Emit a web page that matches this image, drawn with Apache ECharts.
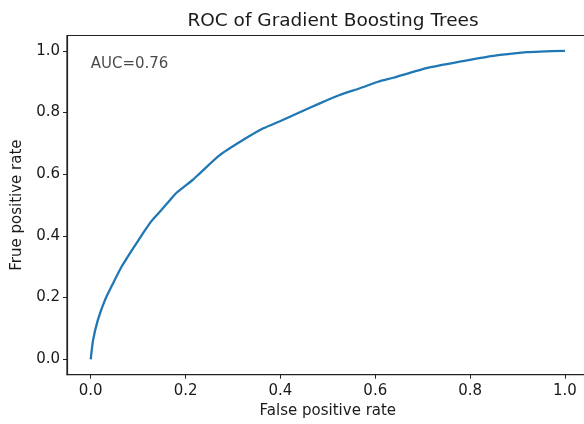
<!DOCTYPE html>
<html lang="en">
<head>
<meta charset="UTF-8">
<title>ROC of Gradient Boosting Trees</title>
<script src="https://cdn.jsdelivr.net/npm/echarts@6/dist/echarts.min.js"></script>
<style>
  html, body { margin: 0; padding: 0; background: #fff; overflow: hidden; }
  #main { width: 584px; height: 424px; }
</style>
</head>
<body>
<div id="main"></div>
<script type="text/javascript">
  // ROC curve points
  var fpr = [0, 0.005, 0.015, 0.030, 0.047, 0.065, 0.089, 0.110, 0.128, 0.149, 0.167, 0.181, 0.216, 0.230,
    0.272, 0.321, 0.364, 0.399, 0.441, 0.483, 0.525, 0.568, 0.606, 0.638, 0.708, 0.778, 0.849, 0.919, 0.947, 1.0];
  var tpr = [0, 0.062, 0.127, 0.192, 0.246, 0.300, 0.359, 0.408, 0.448, 0.484, 0.516, 0.540, 0.583, 0.603,
    0.662, 0.711, 0.749, 0.772, 0.801, 0.830, 0.857, 0.879, 0.900, 0.913, 0.944, 0.965, 0.984, 0.996, 0.998, 1.0];
  var ticks = [0, 0.2, 0.4, 0.6, 0.8, 1.0];
  var aucText = 'AUC=0.76';
  var aucPos = [0, 0.95];

  var font = 'DejaVu Sans';
  var ink = '#1a1a1a';

  var curve = [];
  for (var i = 0; i < fpr.length; i++) {
    curve.push([fpr[i], tpr[i]]);
  }

  function axisOpt(name, gap, margin) {
    return {
      type: 'value',
      min: -0.05,
      max: 1.05,
      name: name,
      nameLocation: 'middle',
      nameGap: gap,
      nameTextStyle: { fontFamily: font, fontSize: 15, color: ink },
      axisLine: { show: true, onZero: false, lineStyle: { color: '#222', width: 1.2 } },
      axisTick: { show: true, length: 4, customValues: ticks, lineStyle: { color: '#222' } },
      axisLabel: {
        customValues: ticks,
        margin: margin,
        fontFamily: font,
        fontSize: 15,
        color: ink,
        formatter: function (v) { return v.toFixed(1); }
      },
      splitLine: { show: false }
    };
  }

  var myChart = echarts.init(document.getElementById('main'));
  var option = {
    backgroundColor: '#fff',
    animation: false,
    title: {
      text: 'ROC of Gradient Boosting Trees',
      left: 328,
      textAlign: 'center',
      top: 7,
      textStyle: { fontFamily: font, fontSize: 18.5, fontWeight: 'normal', color: ink }
    },
    grid: {
      left: 67,
      top: 35.5,
      width: 521.7,
      height: 339.2,
      outerBoundsMode: 'none',
      containLabel: false,
      show: true,
      borderColor: '#222',
      borderWidth: 1.2,
      backgroundColor: 'transparent'
    },
    xAxis: axisOpt('False positive rate', 28, 9),
    yAxis: axisOpt('Frue positive rate', 42, 7),
    series: [
      {
        name: 'ROC',
        type: 'line',
        data: curve,
        showSymbol: false,
        smooth: 0.2,
        lineStyle: { color: '#1f77b4', width: 2.3 },
        z: 3
      },
      {
        name: 'AUC',
        type: 'scatter',
        data: [aucPos],
        symbolSize: 0,
        silent: true,
        label: {
          show: true,
          position: 'right',
          distance: 0,
          offset: [0, -2],
          formatter: aucText,
          fontFamily: font,
          fontSize: 15,
          color: '#1a1a1a'
        }
      }
    ]
  };
  myChart.setOption(option);
</script>
</body>
</html>
